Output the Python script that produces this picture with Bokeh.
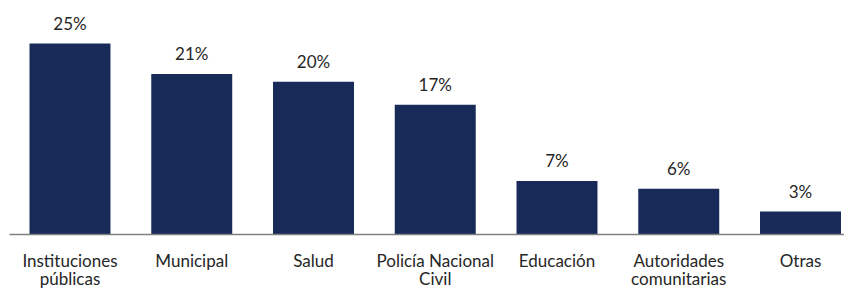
from bokeh.plotting import figure
from bokeh.models import Range1d, ColumnDataSource, LabelSet
from bokeh.core.properties import value
from bokeh.embed import file_html
from bokeh.resources import INLINE

categories = ["Instituciones\npúblicas", "Municipal", "Salud", "Policía Nacional\nCivil",
              "Educación", "Autoridades\ncomunitarias", "Otras"]
values = [25, 21, 20, 17, 7, 6, 3]
labels = ["25%", "21%", "20%", "17%", "7%", "6%", "3%"]

xs = list(range(len(categories)))
line1 = [c.split("\n")[0] for c in categories]
line2 = [c.split("\n")[1] if "\n" in c else "" for c in categories]
src = ColumnDataSource(dict(x=xs, top=values, lab=labels, zero=[0] * len(xs),
                            l1=line1, l2=line2))

W, H = 844, 289
p = figure(width=W, height=H, output_backend="svg", toolbar_location=None,
           x_range=Range1d(-0.5708, 6.3614), y_range=Range1d(-7.199, 30.63),
           min_border=0)
p.outline_line_color = None
p.grid.visible = False
p.axis.visible = False
p.background_fill_color = "white"
p.border_fill_color = "white"

p.vbar(x="x", top="top", width=0.665, bottom=0, source=src,
       fill_color="#172a58", line_color=None)

# baseline (category axis line)
p.segment(x0=[-0.497], y0=[0], x1=[7], y1=[0], line_color="#7f7f7f", line_width=1.5)

font = value("Lato")
color = "#262626"
p.add_layout(LabelSet(x="x", y="top", text="lab", source=src, y_offset=14,
                      text_align="center", text_baseline="alphabetic",
                      text_font=font, text_font_size="17px", text_color=color))
p.add_layout(LabelSet(x="x", y="zero", text="l1", source=src, y_offset=-32,
                      text_align="center", text_baseline="alphabetic",
                      text_font=font, text_font_size="17px", text_color=color))
p.add_layout(LabelSet(x="x", y="zero", text="l2", source=src, y_offset=-50.5,
                      text_align="center", text_baseline="alphabetic",
                      text_font=font, text_font_size="17px", text_color=color))

open("out.html", "w").write(file_html(p, INLINE))
